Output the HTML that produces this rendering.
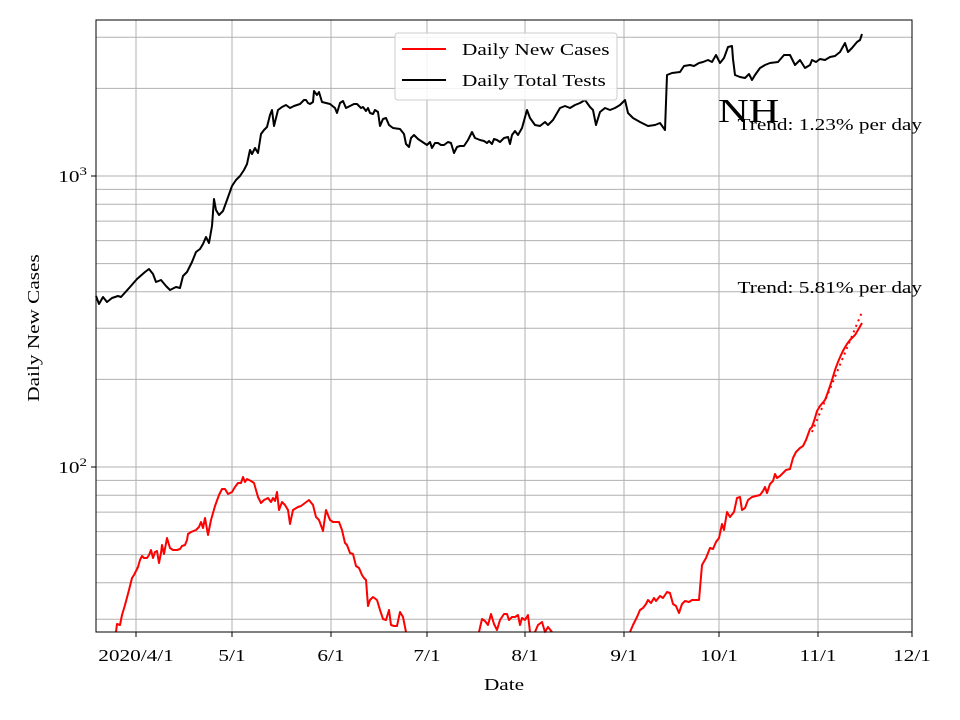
<!DOCTYPE html>
<html><head><meta charset="utf-8"><style>body{margin:0;background:#fff}svg{display:block;font-family:"Liberation Serif",serif}</style></head><body>
<svg width="960" height="720" viewBox="0 0 960 720">
<rect width="960" height="720" fill="#fff"/>
<g stroke="#b0b0b0" stroke-width="1">
<line x1="136" y1="20" x2="136" y2="632"/><line x1="232" y1="20" x2="232" y2="632"/><line x1="331" y1="20" x2="331" y2="632"/><line x1="427" y1="20" x2="427" y2="632"/><line x1="525" y1="20" x2="525" y2="632"/><line x1="624" y1="20" x2="624" y2="632"/><line x1="719" y1="20" x2="719" y2="632"/><line x1="818" y1="20" x2="818" y2="632"/>
<line x1="96" x2="912" y1="37.2" y2="37.2"/><line x1="96" x2="912" y1="88.4" y2="88.4"/><line x1="96" x2="912" y1="176" y2="176"/><line x1="96" x2="912" y1="189.4" y2="189.4"/><line x1="96" x2="912" y1="204.2" y2="204.2"/><line x1="96" x2="912" y1="221.1" y2="221.1"/><line x1="96" x2="912" y1="240.6" y2="240.6"/><line x1="96" x2="912" y1="263.6" y2="263.6"/><line x1="96" x2="912" y1="291.8" y2="291.8"/><line x1="96" x2="912" y1="328.2" y2="328.2"/><line x1="96" x2="912" y1="379.4" y2="379.4"/><line x1="96" x2="912" y1="467" y2="467"/><line x1="96" x2="912" y1="480.4" y2="480.4"/><line x1="96" x2="912" y1="495.2" y2="495.2"/><line x1="96" x2="912" y1="512.1" y2="512.1"/><line x1="96" x2="912" y1="531.6" y2="531.6"/><line x1="96" x2="912" y1="554.6" y2="554.6"/><line x1="96" x2="912" y1="582.8" y2="582.8"/><line x1="96" x2="912" y1="619.2" y2="619.2"/>
</g>
<g fill="none" stroke-width="2" stroke-linejoin="round">
<polyline stroke="#000" points="96,296 99,304 103,297 107,302 112,298 118,296 121,297 130,287 137,279 145,272 149,269 153,274 156,282 161,280 166,286 170,290 176,287 180,288 183,276 187,272 192,262 196,252 200,249 203,244 206,237 209,243 212,226 214,199 216,210 219,215 223,211 227,200 232,186 236,180 240,176 244,170 247,164 250,150 252,154 255,148 258,153 261,134 264,130 267,127 270,115 272,110 274,126 278,110 282,107 286,105 290,108 294,106 300,104 304,100 306,100 308,103 310,104 313,102 314,91 317,95 319,92 322,102 326,103 330,104 335,108 337,113 340,103 343,101 346,108 350,106 354,104 357,104 361,108 363,107 366,111 368,108 370,113 373,114 375,110 378,112 380,126 383,119 386,118 389,125 393,128 400,129 404,134 406,144 409,147 411,138 414,135 418,139 424,143 427,145 430,142 432,148 435,143 438,143 441,145 444,145 448,142 451,143 454,153 457,147 460,146 464,146 468,140 472,132 475,138 480,140 484,141 487,143 489,141 492,144 494,139 497,140 500,142 504,138 508,137 510,144 512,135 515,131 518,135 522,128 527,110 530,118 535,125 540,126 545,122 548,125 553,120 560,108 565,106 570,108 575,105 580,103 585,100 590,107 593,110 596,125 600,112 605,108 610,110 615,108 620,105 625,100 628,113 633,118 640,122 648,126 655,125 660,123 665,130 667,75 672,73 680,72 684,66 690,65 694,66 699,63 703,62 708,60 712,62 716,55 720,63 724,58 728,47 732,46 733,59 735,75 740,77 745,78 749,74 752,80 755,75 760,68 765,65 770,63 778,62 784,55 790,55 795,65 800,60 805,68 810,65 812,60 816,62 820,59 825,60 830,57 835,56 840,52 845,43 848,52 852,48 857,42 860,40 862,34"/>
<polyline stroke="#f00" points="116,632 117,624 120,625 122,615 125,605 129,590 132,578 134,575 138,567 140,560 142,556 144,558 147,558 149,555 151,550 153,558 155,552 157,551 159,563 161,553 162,545 164,554 167,538 170,548 173,550 177,550 180,549 182,546 185,545 187,540 188,534 191,532 196,530 199,527 201,522 203,528 205,518 208,535 211,520 215,506 219,495 222,489 225,489 228,494 232,492 235,487 238,483 241,483 243,477 245,482 247,479 251,481 254,483 258,497 261,503 264,500 268,498 271,502 273,498 275,501 277,492 279,510 282,502 285,505 288,510 290,524 293,510 298,507 301,506 305,503 309,500 313,505 316,517 319,520 323,531 326,510 330,520 333,522 339,522 342,530 345,543 347,545 350,553 353,554 356,566 359,568 362,575 364,578 366,580 368,606 370,600 373,597 377,600 380,610 383,619 386,620 389,610 391,625 394,626 397,626 400,612 403,617 406,632"/>
<polyline stroke="#f00" points="479,632 482,619 485,621 488,625 491,614 494,624 497,630 500,620 504,614 507,614 509,620 512,617 515,617 518,615 520,625 522,618 525,620 528,615 530,632"/>
<polyline stroke="#f00" points="535,632 538,625 542,622 545,632 548,627 552,632"/>
<polyline stroke="#f00" points="630,632 633,625 637,617 640,610 643,608 646,604 648,600 651,603 654,598 656,601 660,596 663,598 667,592 670,593 673,604 676,606 679,613 682,604 685,601 689,602 692,600 699,600 702,565 706,558 710,548 713,549 716,542 719,538 722,524 724,530 727,512 730,517 734,512 737,498 740,497 742,510 745,508 748,500 752,497 756,496 760,495 763,491 765,487 767,493 770,484 773,481 775,474 777,478 780,476 783,473 786,470 790,469 793,458 796,452 800,448 803,446 806,440 810,429 812,427 815,418 817,411 820,406 825,400 828,392 832,380 835,370 838,362 841,355 844,349 847,344 850,340 855,335 858,330 862,323"/>
<polyline stroke="#f00" stroke-dasharray="2,4" points="812,432 862,312"/>
</g>
<rect x="96" y="20" width="816" height="612" fill="none" stroke="#000" stroke-width="1"/>
<g stroke="#000" stroke-width="1">
<line x1="136" y1="632" x2="136" y2="637"/><line x1="232" y1="632" x2="232" y2="637"/><line x1="331" y1="632" x2="331" y2="637"/><line x1="427" y1="632" x2="427" y2="637"/><line x1="525" y1="632" x2="525" y2="637"/><line x1="624" y1="632" x2="624" y2="637"/><line x1="719" y1="632" x2="719" y2="637"/><line x1="818" y1="632" x2="818" y2="637"/><line x1="912" y1="632" x2="912" y2="637"/>
<line x1="91" x2="96" y1="176" y2="176"/><line x1="91" x2="96" y1="467" y2="467"/>
</g>
<g font-size="17" fill="#000" text-anchor="middle">
<text transform="translate(136,661) scale(1.25,1)">2020/4/1</text>
<text transform="translate(232,661) scale(1.25,1)">5/1</text>
<text transform="translate(331,661) scale(1.25,1)">6/1</text>
<text transform="translate(427,661) scale(1.25,1)">7/1</text>
<text transform="translate(525,661) scale(1.25,1)">8/1</text>
<text transform="translate(624,661) scale(1.25,1)">9/1</text>
<text transform="translate(719,661) scale(1.25,1)">10/1</text>
<text transform="translate(818,661) scale(1.25,1)">11/1</text>
<text transform="translate(912,661) scale(1.25,1)">12/1</text>
<text transform="translate(504,690) scale(1.25,1)">Date</text>
<text transform="translate(39,328) rotate(-90) scale(1.25,1)">Daily New Cases</text>
</g>
<g font-size="17" text-anchor="end">
<text transform="translate(87,182) scale(1.25,1)">10<tspan font-size="12" dy="-7">3</tspan></text>
<text transform="translate(87,473) scale(1.25,1)">10<tspan font-size="12" dy="-7">2</tspan></text>
</g>
<text transform="translate(718,122) scale(1.25,1)" font-size="34">NH</text>
<text transform="translate(922,130) scale(1.25,1)" font-size="17" text-anchor="end">Trend: 1.23% per day</text>
<text transform="translate(922,293) scale(1.25,1)" font-size="17" text-anchor="end">Trend: 5.81% per day</text>
<rect x="395" y="33" width="222" height="67" rx="3" fill="#fff" fill-opacity="0.85" stroke="#ccc"/>
<line x1="402" y1="49" x2="446" y2="49" stroke="#f00" stroke-width="2"/>
<line x1="402" y1="80" x2="446" y2="80" stroke="#000" stroke-width="2"/>
<text transform="translate(462,55) scale(1.25,1)" font-size="17">Daily New Cases</text>
<text transform="translate(462,86) scale(1.25,1)" font-size="17">Daily Total Tests</text>
</svg>
</body></html>
